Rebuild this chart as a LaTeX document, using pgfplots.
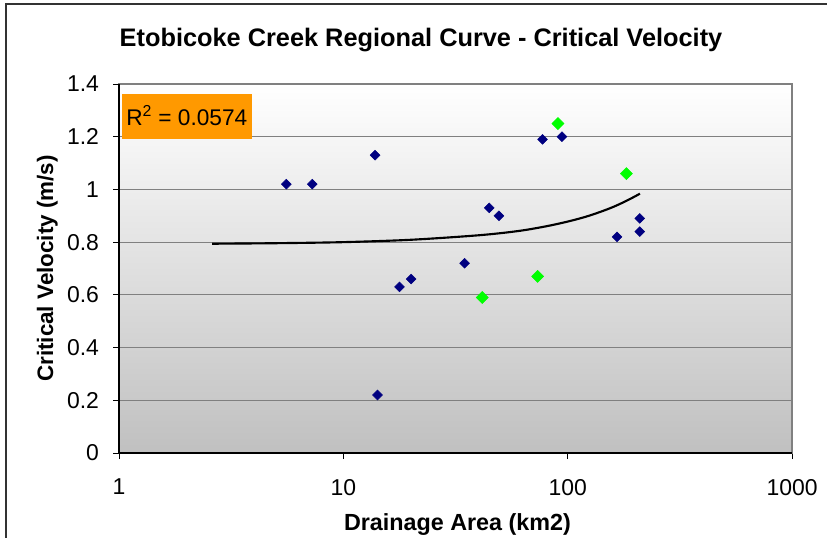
\documentclass[border=0pt]{standalone}
\usepackage{pgfplots}
\pgfplotsset{compat=1.18}
\usepackage{fontspec}
\setmainfont{Liberation Sans}
\definecolor{navyblue}{HTML}{000080}
\definecolor{brightgreen}{HTML}{00FF00}
\definecolor{bgbottom}{HTML}{C0C0C0}
\definecolor{gridgray}{HTML}{808080}
\definecolor{rorange}{HTML}{FF9900}
\begin{document}
\begin{tikzpicture}
\begin{axis}[
  at={(89.25pt,63pt)}, anchor=south west,
  scale only axis,
  width=504.75pt, height=276.75pt,
  xmode=log, xmin=1, xmax=1000,
  ymin=0, ymax=1.4,
  xtick={1,10,100,1000}, xticklabels={1,10,100,1000},
  ytick={0,0.2,0.4,0.6,0.8,1,1.2,1.4},
  yticklabels={0,0.2,0.4,0.6,0.8,1,1.2,1.4},
  xminorticks=false, yminorticks=false,
  tick align=outside, tick pos=left,
  major tick length=4.5pt,
  tick style={black, line width=0.75pt},
  ymajorgrids, grid style={gridgray, line width=0.9pt},
  axis line style={gridgray, line width=0.9pt},
  axis background/.style={top color=white, bottom color=bgbottom},
  ticklabel style={font=\fontsize{17.2}{17.2}\selectfont},
  xticklabel style={yshift=-11.5pt},
  yticklabel style={xshift=-7pt},
  /pgf/number format/assume math mode=true,
  clip=false,
]
\addplot[only marks, mark=square*, mark size=2.6pt, color=navyblue, mark options={rotate=45, fill=navyblue, draw=navyblue}] coordinates {
 (5.57,1.02) (7.27,1.02) (13.85,1.13) (14.2,0.22) (17.8,0.63) (20.05,0.66)
 (34.7,0.72) (44.7,0.93) (49.4,0.90) (77.3,1.19) (94.3,1.20)
 (166,0.82) (209.6,0.89) (209.6,0.84)
};
\addplot[only marks, mark=square*, mark size=3.2pt, color=brightgreen, mark options={rotate=45, fill=brightgreen, draw=brightgreen}] coordinates {
 (90.5,1.25) (182.8,1.06) (73.5,0.67) (41.6,0.59)
};
\addplot[black, line width=1.6pt, no marks, smooth] coordinates {
 (2.6,0.794) (5,0.796) (10,0.800) (20,0.809) (40,0.826) (60,0.842) (80,0.860)
 (100,0.878) (120,0.896) (140,0.915) (160,0.934) (180,0.954) (200,0.974) (210,0.984)
};
\draw[black, line width=0.9pt] (rel axis cs:0,1) -- (rel axis cs:0,0) -- (rel axis cs:1,0);
\end{axis}
\fill[rorange] (91.5pt,298.5pt) rectangle (189pt,332.25pt);
\node[anchor=base west, inner sep=0pt, font=\fontsize{17}{17}\selectfont] at (94.5pt,309pt) {R\textsuperscript{2} = 0.0574};
\node[anchor=base, inner sep=0pt, font=\fontsize{19}{19}\selectfont\bfseries] at (315.75pt,368.25pt) {Etobicoke Creek Regional Curve - Critical Velocity};
\node[anchor=base, inner sep=0pt, font=\fontsize{17.5}{17.5}\selectfont\bfseries] at (343.1pt,4.7pt) {Drainage Area (km2)};
\node[rotate=90, anchor=base, inner sep=0pt, font=\fontsize{16.8}{16.8}\selectfont\bfseries] at (39.75pt,201.4pt) {Critical Velocity (m/s)};
\draw[black!80, line width=0.9pt] (4.5pt,-2pt) -- (4.5pt,399.75pt) -- (622pt,399.75pt);
\pgfresetboundingbox
\path (0,0) rectangle (620.25pt,402.75pt);
\end{tikzpicture}
\end{document}
